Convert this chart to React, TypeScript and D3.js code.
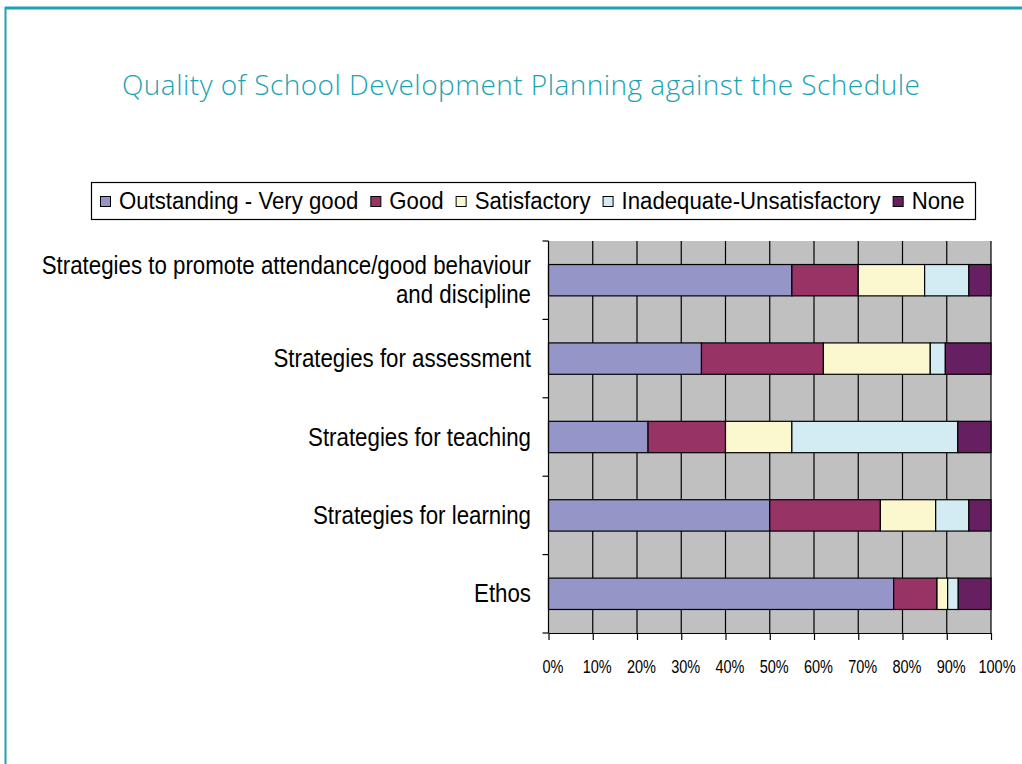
import { useEffect, useRef } from "react";
import * as d3 from "d3";

// chart values (percent of schools), top row first
const categories = [
  "Strategies to promote attendance/good behaviour\nand discipline",
  "Strategies for assessment",
  "Strategies for teaching",
  "Strategies for learning",
  "Ethos",
];
const seriesNames = [
  "Outstanding - Very good",
  "Good",
  "Satisfactory",
  "Inadequate-Unsatisfactory",
  "None",
];
const outstanding = [55, 34.5, 22.5, 50, 78];
const good = [15, 27.5, 17.5, 25, 9.8];
const satisfactory = [15, 24.1, 15, 12.5, 2.4];
const inadequate = [10, 3.4, 37.5, 7.5, 2.4];
const none = [5, 10.3, 7.5, 5, 7.4];
const xTicks = [0, 0.1, 0.2, 0.3, 0.4, 0.5, 0.6, 0.7, 0.8, 0.9, 1];
const colors = ["#9595C8", "#983366", "#FBF8CF", "#D3ECF3", "#662062"];

const title = "Quality of School Development Planning against the Schedule";
const teal = "#1AA3B4";
const labelFont = "'Liberation Sans', Arial, sans-serif";

const App = () => {
  const ref = useRef<SVGSVGElement | null>(null);

  useEffect(() => {
    const svg = d3.select(ref.current);
    svg.selectAll("*").remove();

    const data = categories.map((c, i) => ({
      category: c,
      [seriesNames[0]]: outstanding[i],
      [seriesNames[1]]: good[i],
      [seriesNames[2]]: satisfactory[i],
      [seriesNames[3]]: inadequate[i],
      [seriesNames[4]]: none[i],
    }));

    const stacked = d3
      .stack<any>()
      .keys(seriesNames)
      .offset(d3.stackOffsetExpand)(data);

    const color = d3.scaleOrdinal<string>().domain(seriesNames).range(colors);

    const x = d3.scaleLinear().domain([0, 1]).range([548.5, 991]);
    const y = d3
      .scaleBand()
      .domain(categories)
      .range([241, 633])
      .paddingInner(0.6)
      .paddingOuter(0.3);

    // page frame
    svg
      .append("line")
      .attr("x1", 5)
      .attr("x2", 1022)
      .attr("y1", 8)
      .attr("y2", 8)
      .attr("stroke", teal)
      .attr("stroke-width", 3);
    svg
      .append("line")
      .attr("x1", 5.5)
      .attr("x2", 5.5)
      .attr("y1", 7)
      .attr("y2", 764)
      .attr("stroke", teal)
      .attr("stroke-width", 2);

    // title
    svg
      .append("text")
      .attr("x", 521)
      .attr("y", 95)
      .attr("text-anchor", "middle")
      .attr("fill", teal)
      .attr("font-family", "'Open Sans', 'Noto Sans', sans-serif")
      .attr("font-weight", 300)
      .attr("font-size", 28)
      .attr("textLength", 798)
      .attr("lengthAdjust", "spacing")
      .text(title);

    // plot background
    svg
      .append("rect")
      .attr("x", x(0))
      .attr("y", 241)
      .attr("width", x(1) - x(0))
      .attr("height", 633 - 241)
      .attr("fill", "#C0C0C0");

    // vertical grid lines
    svg
      .append("g")
      .selectAll("line")
      .data(xTicks.slice(1))
      .join("line")
      .attr("x1", (d) => x(d))
      .attr("x2", (d) => x(d))
      .attr("y1", 241)
      .attr("y2", 633)
      .attr("stroke", "#000")
      .attr("stroke-width", 1.2);

    // stacked bars
    svg
      .append("g")
      .selectAll("g")
      .data(stacked)
      .join("g")
      .attr("fill", (d) => color(d.key))
      .selectAll("rect")
      .data((d) => d)
      .join("rect")
      .attr("x", (d) => x(d[0]))
      .attr("y", (d) => y(d.data.category)!)
      .attr("width", (d) => x(d[1]) - x(d[0]))
      .attr("height", y.bandwidth())
      .attr("stroke", "#000")
      .attr("stroke-width", 1.2);

    // x axis
    const xAxis = svg
      .append("g")
      .attr("transform", `translate(0, 633)`)
      .call(
        d3
          .axisBottom(x)
          .tickValues(xTicks)
          .tickFormat(d3.format(".0%"))
          .tickSize(7)
          .tickSizeOuter(0)
      );
    xAxis.select(".domain").attr("stroke", "#000").attr("stroke-width", 1.2);
    xAxis.selectAll(".tick line").attr("stroke", "#000").attr("stroke-width", 1.2);
    xAxis
      .selectAll("text")
      .attr("font-family", labelFont)
      .attr("font-size", 14.5)
      .attr("fill", "#000")
      .attr("y", 0)
      .attr("dy", 0)
      .attr("transform", (d: any, i) => `translate(${4 + (i === 10 ? 1.5 : 0)}, 40) scale(1, 1.28)`);

    // y axis: ticks on category boundaries
    const boundaries = categories.map((c) => y(c)! - y.step() * 0.3);
    boundaries.push(633);
    svg
      .append("line")
      .attr("x1", x(0))
      .attr("x2", x(0))
      .attr("y1", 241)
      .attr("y2", 633)
      .attr("stroke", "#000")
      .attr("stroke-width", 1.2);
    svg
      .append("g")
      .selectAll("line")
      .data(boundaries)
      .join("line")
      .attr("x1", x(0) - 6)
      .attr("x2", x(0))
      .attr("y1", (d) => d)
      .attr("y2", (d) => d)
      .attr("stroke", "#000")
      .attr("stroke-width", 1.2);

    // category labels (slightly tall glyphs, like the original)
    const labels = svg.append("g");
    categories.forEach((d) => {
      const lines = d.split("\n");
      const mid = y(d)! + y.bandwidth() / 2;
      const lh = 29;
      lines.forEach((line, i) => {
        labels
          .append("text")
          .attr("text-anchor", "end")
          .attr("font-family", labelFont)
          .attr("font-size", 22.3)
          .attr("fill", "#000")
          .attr(
            "transform",
            `translate(531, ${mid + 8.5 + (i - (lines.length - 1) / 2) * lh}) scale(1, 1.12)`
          )
          .text(line);
      });
    });

    // legend
    const legend = svg.append("g");
    legend
      .append("rect")
      .attr("x", 91.5)
      .attr("y", 182.5)
      .attr("width", 884)
      .attr("height", 37)
      .attr("fill", "#fff")
      .attr("stroke", "#000")
      .attr("stroke-width", 1.2);
    let lx = 100;
    seriesNames.forEach((name) => {
      legend
        .append("rect")
        .attr("x", lx + 0.5)
        .attr("y", 196.5)
        .attr("width", 10)
        .attr("height", 10)
        .attr("fill", color(name))
        .attr("stroke", "#000")
        .attr("stroke-width", 1);
      const t = legend
        .append("text")
        .attr("font-family", labelFont)
        .attr("font-size", 22.2)
        .attr("fill", "#000")
        .attr("transform", `translate(${lx + 19}, 209) scale(1, 1.1)`)
        .text(name);
      const w = (t.node() as SVGTextElement).getComputedTextLength();
      lx = lx + 19 + w + 12;
    });
  }, []);

  return (
    <div style={{ position: "absolute", left: 0, top: 0 }}>
      <svg ref={ref} width={1022} height={764} style={{ display: "block", background: "#fff" }} />
    </div>
  );
};

export default App;
